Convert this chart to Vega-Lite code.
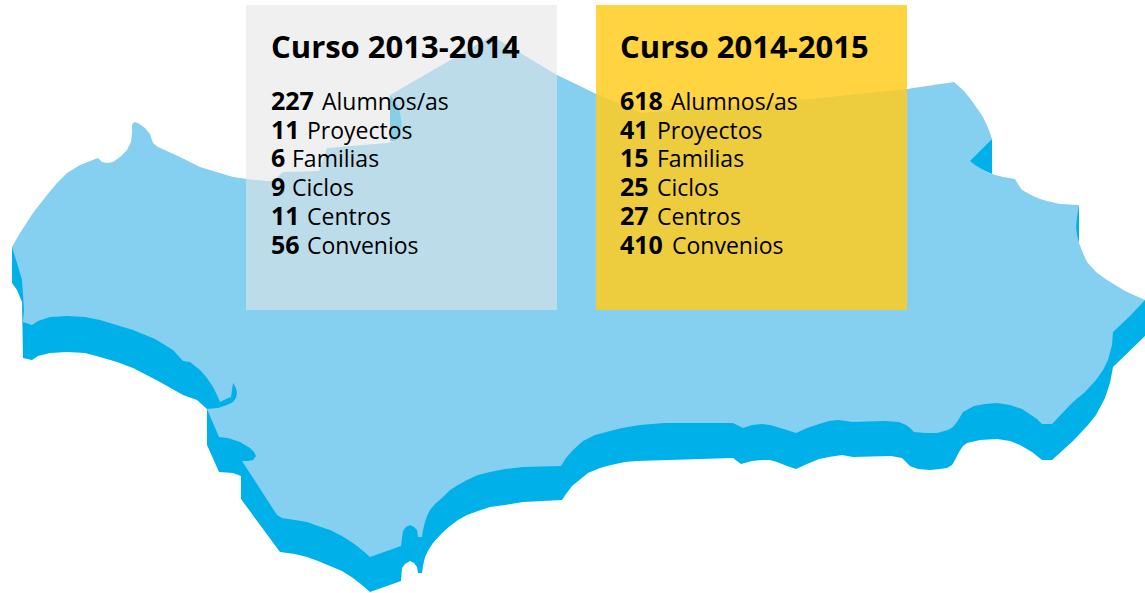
{"$schema":"https://vega.github.io/schema/vega-lite/v6.json","width":1145,"height":593,"padding":0,"autosize":"none","background":"white","view":{"stroke":null},
"datasets":{
"dark":[
{"s":"a","i":1,"x":12,"y":247},{"s":"a","i":2,"x":12,"y":283},{"s":"a","i":3,"x":17,"y":290},{"s":"a","i":4,"x":22,"y":302},{"s":"a","i":5,"x":23,"y":358},{"s":"a","i":6,"x":32,"y":360},{"s":"a","i":7,"x":38,"y":356},{"s":"a","i":8,"x":50,"y":353},{"s":"a","i":9,"x":67,"y":352},{"s":"a","i":10,"x":85,"y":353},{"s":"a","i":11,"x":100,"y":357},{"s":"a","i":12,"x":117,"y":362},{"s":"a","i":13,"x":133,"y":368},{"s":"a","i":14,"x":160,"y":382},{"s":"a","i":15,"x":183,"y":395},{"s":"a","i":16,"x":197,"y":400},{"s":"a","i":17,"x":207,"y":409},{"s":"a","i":18,"x":207,"y":445},{"s":"a","i":19,"x":219,"y":472},{"s":"a","i":20,"x":233,"y":473},{"s":"a","i":21,"x":241,"y":476},{"s":"a","i":22,"x":241,"y":499},{"s":"a","i":23,"x":280,"y":552},{"s":"a","i":24,"x":295,"y":554},{"s":"a","i":25,"x":307,"y":557},{"s":"a","i":26,"x":318,"y":561},{"s":"a","i":27,"x":330,"y":566},{"s":"a","i":28,"x":342,"y":571},{"s":"a","i":29,"x":353,"y":578},{"s":"a","i":30,"x":362,"y":585},{"s":"a","i":31,"x":370,"y":592},{"s":"a","i":32,"x":401,"y":581},{"s":"a","i":33,"x":402,"y":568},{"s":"a","i":34,"x":405,"y":564},{"s":"a","i":35,"x":410,"y":561},{"s":"a","i":36,"x":414,"y":563},{"s":"a","i":37,"x":417,"y":567},{"s":"a","i":38,"x":418,"y":573},{"s":"a","i":39,"x":422,"y":573},{"s":"a","i":40,"x":423,"y":566},{"s":"a","i":41,"x":425,"y":557},{"s":"a","i":42,"x":429,"y":549},{"s":"a","i":43,"x":433,"y":543},{"s":"a","i":44,"x":442,"y":533},{"s":"a","i":45,"x":450,"y":526},{"s":"a","i":46,"x":458,"y":520},{"s":"a","i":47,"x":467,"y":515},{"s":"a","i":48,"x":478,"y":511},{"s":"a","i":49,"x":490,"y":507},{"s":"a","i":50,"x":505,"y":505},{"s":"a","i":51,"x":523,"y":502},{"s":"a","i":52,"x":562,"y":500},{"s":"a","i":53,"x":566,"y":494},{"s":"a","i":54,"x":572,"y":486},{"s":"a","i":55,"x":588,"y":473},{"s":"a","i":56,"x":600,"y":468},{"s":"a","i":57,"x":611,"y":465},{"s":"a","i":58,"x":625,"y":462},{"s":"a","i":59,"x":637,"y":461},{"s":"a","i":60,"x":733,"y":458},{"s":"a","i":61,"x":741,"y":464},{"s":"a","i":62,"x":752,"y":461},{"s":"a","i":63,"x":762,"y":460},{"s":"a","i":64,"x":770,"y":460},{"s":"a","i":65,"x":777,"y":462},{"s":"a","i":66,"x":787,"y":466},{"s":"a","i":67,"x":796,"y":469},{"s":"a","i":68,"x":807,"y":464},{"s":"a","i":69,"x":819,"y":459},{"s":"a","i":70,"x":829,"y":457},{"s":"a","i":71,"x":842,"y":455},{"s":"a","i":72,"x":853,"y":457},{"s":"a","i":73,"x":891,"y":456},{"s":"a","i":74,"x":902,"y":458},{"s":"a","i":75,"x":906,"y":462},{"s":"a","i":76,"x":910,"y":466},{"s":"a","i":77,"x":918,"y":469},{"s":"a","i":78,"x":930,"y":470},{"s":"a","i":79,"x":940,"y":469},{"s":"a","i":80,"x":947,"y":468},{"s":"a","i":81,"x":952,"y":465},{"s":"a","i":82,"x":955,"y":460},{"s":"a","i":83,"x":959,"y":452},{"s":"a","i":84,"x":963,"y":446},{"s":"a","i":85,"x":967,"y":443},{"s":"a","i":86,"x":980,"y":440},{"s":"a","i":87,"x":997,"y":439},{"s":"a","i":88,"x":1010,"y":441},{"s":"a","i":89,"x":1020,"y":445},{"s":"a","i":90,"x":1032,"y":452},{"s":"a","i":91,"x":1042,"y":460},{"s":"a","i":92,"x":1052,"y":460},{"s":"a","i":93,"x":1073,"y":441},{"s":"a","i":94,"x":1088,"y":425},{"s":"a","i":95,"x":1096,"y":415},{"s":"a","i":96,"x":1105,"y":398},{"s":"a","i":97,"x":1110,"y":383},{"s":"a","i":98,"x":1113,"y":367},{"s":"a","i":99,"x":1145,"y":336},{"s":"a","i":100,"x":1145,"y":300},{"s":"a","i":101,"x":600,"y":300},
{"s":"b","i":1,"x":390,"y":95},{"s":"b","i":2,"x":390,"y":141},{"s":"b","i":3,"x":410,"y":141},{"s":"b","i":4,"x":410,"y":95},
{"s":"c","i":1,"x":992,"y":139},{"s":"c","i":2,"x":960,"y":160},{"s":"c","i":3,"x":992,"y":174},
{"s":"d","i":1,"x":1079,"y":205},{"s":"d","i":2,"x":1070,"y":220},{"s":"d","i":3,"x":1079,"y":243}
],
"light":[
{"i":1,"x":12,"y":247},{"i":2,"x":20,"y":233},{"i":3,"x":33,"y":213},{"i":4,"x":47,"y":195},{"i":5,"x":57,"y":183},{"i":6,"x":67,"y":173},{"i":7,"x":80,"y":165},{"i":8,"x":98,"y":158},{"i":9,"x":102,"y":162},{"i":10,"x":107,"y":163},{"i":11,"x":113,"y":162},{"i":12,"x":120,"y":157},{"i":13,"x":127,"y":150},{"i":14,"x":131,"y":142},{"i":15,"x":132,"y":133},{"i":16,"x":132,"y":125},{"i":17,"x":134,"y":122},{"i":18,"x":138,"y":123},{"i":19,"x":145,"y":128},{"i":20,"x":150,"y":134},{"i":21,"x":153,"y":143},{"i":22,"x":158,"y":147},{"i":23,"x":180,"y":157},{"i":24,"x":200,"y":167},{"i":25,"x":233,"y":177},{"i":26,"x":247,"y":179},{"i":27,"x":267,"y":181},{"i":28,"x":273,"y":181},{"i":29,"x":283,"y":172},{"i":30,"x":319,"y":171},{"i":31,"x":327,"y":148},{"i":32,"x":387,"y":143},{"i":33,"x":397,"y":140},{"i":34,"x":402,"y":125},{"i":35,"x":399,"y":108},{"i":36,"x":390,"y":95},{"i":37,"x":492,"y":36},{"i":38,"x":557,"y":75},{"i":39,"x":580,"y":86},{"i":40,"x":596,"y":94},{"i":41,"x":620,"y":104},{"i":42,"x":642,"y":113},{"i":43,"x":670,"y":110},{"i":44,"x":740,"y":105},{"i":45,"x":810,"y":99},{"i":46,"x":907,"y":89},{"i":47,"x":954,"y":82},{"i":48,"x":964,"y":91},{"i":49,"x":972,"y":101},{"i":50,"x":983,"y":117},{"i":51,"x":989,"y":130},{"i":52,"x":992,"y":139},{"i":53,"x":970,"y":161},{"i":54,"x":975,"y":165},{"i":55,"x":980,"y":168},{"i":56,"x":985,"y":171},{"i":57,"x":992,"y":174},{"i":58,"x":1003,"y":177},{"i":59,"x":1015,"y":179},{"i":60,"x":1018,"y":184},{"i":61,"x":1022,"y":190},{"i":62,"x":1033,"y":196},{"i":63,"x":1040,"y":199},{"i":64,"x":1047,"y":201},{"i":65,"x":1060,"y":204},{"i":66,"x":1079,"y":205},{"i":67,"x":1077,"y":217},{"i":68,"x":1076,"y":227},{"i":69,"x":1077,"y":235},{"i":70,"x":1079,"y":243},{"i":71,"x":1083,"y":253},{"i":72,"x":1087,"y":262},{"i":73,"x":1096,"y":272},{"i":74,"x":1107,"y":280},{"i":75,"x":1125,"y":291},{"i":76,"x":1145,"y":300},{"i":77,"x":1130,"y":316},{"i":78,"x":1113,"y":332},{"i":79,"x":1112,"y":345},{"i":80,"x":1108,"y":360},{"i":81,"x":1103,"y":370},{"i":82,"x":1096,"y":380},{"i":83,"x":1085,"y":392},{"i":84,"x":1073,"y":402},{"i":85,"x":1052,"y":424},{"i":86,"x":1042,"y":424},{"i":87,"x":1037,"y":419},{"i":88,"x":1031,"y":415},{"i":89,"x":1022,"y":409},{"i":90,"x":1010,"y":405},{"i":91,"x":997,"y":403},{"i":92,"x":985,"y":404},{"i":93,"x":974,"y":406},{"i":94,"x":963,"y":412},{"i":95,"x":960,"y":417},{"i":96,"x":957,"y":422},{"i":97,"x":953,"y":427},{"i":98,"x":948,"y":430},{"i":99,"x":937,"y":433},{"i":100,"x":925,"y":433},{"i":101,"x":914,"y":432},{"i":102,"x":910,"y":428},{"i":103,"x":906,"y":425},{"i":104,"x":899,"y":422},{"i":105,"x":884,"y":421},{"i":106,"x":853,"y":422},{"i":107,"x":838,"y":420},{"i":108,"x":829,"y":421},{"i":109,"x":819,"y":424},{"i":110,"x":807,"y":428},{"i":111,"x":796,"y":433},{"i":112,"x":787,"y":430},{"i":113,"x":777,"y":427},{"i":114,"x":770,"y":425},{"i":115,"x":762,"y":424},{"i":116,"x":752,"y":425},{"i":117,"x":743,"y":428},{"i":118,"x":733,"y":423},{"i":119,"x":664,"y":423},{"i":120,"x":640,"y":425},{"i":121,"x":622,"y":428},{"i":122,"x":610,"y":431},{"i":123,"x":595,"y":435},{"i":124,"x":583,"y":441},{"i":125,"x":573,"y":450},{"i":126,"x":566,"y":458},{"i":127,"x":561,"y":466},{"i":128,"x":523,"y":467},{"i":129,"x":505,"y":469},{"i":130,"x":490,"y":472},{"i":131,"x":478,"y":475},{"i":132,"x":467,"y":480},{"i":133,"x":458,"y":485},{"i":134,"x":450,"y":490},{"i":135,"x":442,"y":498},{"i":136,"x":435,"y":504},{"i":137,"x":430,"y":510},{"i":138,"x":427,"y":516},{"i":139,"x":425,"y":522},{"i":140,"x":423,"y":530},{"i":141,"x":422,"y":537},{"i":142,"x":418,"y":537},{"i":143,"x":417,"y":530},{"i":144,"x":414,"y":527},{"i":145,"x":410,"y":525},{"i":146,"x":406,"y":527},{"i":147,"x":403,"y":531},{"i":148,"x":402,"y":538},{"i":149,"x":401,"y":546},{"i":150,"x":370,"y":557},{"i":151,"x":362,"y":550},{"i":152,"x":353,"y":543},{"i":153,"x":342,"y":536},{"i":154,"x":330,"y":530},{"i":155,"x":318,"y":526},{"i":156,"x":307,"y":522},{"i":157,"x":295,"y":520},{"i":158,"x":282,"y":518},{"i":159,"x":277,"y":515},{"i":160,"x":242,"y":461},{"i":161,"x":248,"y":461},{"i":162,"x":253,"y":460},{"i":163,"x":256,"y":456},{"i":164,"x":254,"y":452},{"i":165,"x":250,"y":448},{"i":166,"x":245,"y":445},{"i":167,"x":240,"y":442},{"i":168,"x":228,"y":438},{"i":169,"x":219,"y":437},{"i":170,"x":207,"y":409},{"i":171,"x":218,"y":408},{"i":172,"x":227,"y":405},{"i":173,"x":233,"y":402},{"i":174,"x":236,"y":398},{"i":175,"x":237,"y":393},{"i":176,"x":236,"y":388},{"i":177,"x":233,"y":383},{"i":178,"x":232,"y":390},{"i":179,"x":231,"y":397},{"i":180,"x":226,"y":399},{"i":181,"x":220,"y":402},{"i":182,"x":217,"y":395},{"i":183,"x":213,"y":387},{"i":184,"x":207,"y":378},{"i":185,"x":200,"y":370},{"i":186,"x":190,"y":362},{"i":187,"x":183,"y":361},{"i":188,"x":173,"y":350},{"i":189,"x":155,"y":339},{"i":190,"x":133,"y":330},{"i":191,"x":100,"y":320},{"i":192,"x":85,"y":317},{"i":193,"x":67,"y":316},{"i":194,"x":50,"y":317},{"i":195,"x":38,"y":321},{"i":196,"x":32,"y":325},{"i":197,"x":23,"y":322},{"i":198,"x":24,"y":310},{"i":199,"x":23,"y":295},{"i":200,"x":22,"y":280},{"i":201,"x":17,"y":263}
],
"panels":[{"curso":"2013-2014","x":246,"x2":557,"y":5,"y2":310},{"curso":"2014-2015","x":596,"x2":907,"y":5,"y2":310}],
"bold":[
{"t":"Curso 2013-2014","x":271,"y":58,"k":"title"},{"t":"Curso 2014-2015","x":620,"y":58,"k":"title"},
{"t":"227","x":271,"y":110,"k":"n"},{"t":"11","x":271,"y":139,"k":"n"},{"t":"6","x":271,"y":167,"k":"n"},{"t":"9","x":271,"y":196,"k":"n"},{"t":"11","x":271,"y":225,"k":"n"},{"t":"56","x":271,"y":254,"k":"n"},
{"t":"618","x":620,"y":110,"k":"n"},{"t":"41","x":620,"y":139,"k":"n"},{"t":"15","x":620,"y":167,"k":"n"},{"t":"25","x":620,"y":196,"k":"n"},{"t":"27","x":620,"y":225,"k":"n"},{"t":"410","x":620,"y":254,"k":"n"}
],
"regular":[
{"t":"Alumnos/as","x":322,"y":110},{"t":"Proyectos","x":307,"y":139},{"t":"Familias","x":292,"y":167},{"t":"Ciclos","x":292,"y":196},{"t":"Centros","x":307,"y":225},{"t":"Convenios","x":307,"y":254},
{"t":"Alumnos/as","x":671,"y":110},{"t":"Proyectos","x":657,"y":139},{"t":"Familias","x":657,"y":167},{"t":"Ciclos","x":657,"y":196},{"t":"Centros","x":657,"y":225},{"t":"Convenios","x":672,"y":254}
]},
"encoding":{
"x":{"field":"x","type":"quantitative","axis":null,"scale":{"domain":[0,1145],"nice":false,"zero":false}},
"y":{"field":"y","type":"quantitative","axis":null,"scale":{"domain":[593,0],"nice":false,"zero":false}}},
"layer":[
{"data":{"name":"dark"},"mark":{"type":"line","fill":"#00b1e9","stroke":null,"strokeWidth":0,"clip":true},"encoding":{"detail":{"field":"s"},"order":{"field":"i","type":"quantitative"}}},
{"data":{"name":"light"},"mark":{"type":"line","fill":"#85cff0","stroke":null,"strokeWidth":0,"clip":true},"encoding":{"order":{"field":"i","type":"quantitative"}}},
{"data":{"name":"panels"},"transform":[{"filter":"datum.curso=='2013-2014'"}],"mark":{"type":"rect","fill":"#e5e5e5","opacity":0.58},"encoding":{"x2":{"field":"x2"},"y2":{"field":"y2"}}},
{"data":{"name":"panels"},"transform":[{"filter":"datum.curso=='2014-2015'"}],"mark":{"type":"rect","fill":"#ffcc1e","opacity":0.85},"encoding":{"x2":{"field":"x2"},"y2":{"field":"y2"}}},
{"data":{"name":"bold"},"transform":[{"filter":"datum.k=='title'"}],"mark":{"type":"text","align":"left","baseline":"alphabetic","font":"Open Sans","fontWeight":"bold","fontSize":31,"fill":"#000"},"encoding":{"text":{"field":"t"}}},
{"data":{"name":"bold"},"transform":[{"filter":"datum.k=='n'"}],"mark":{"type":"text","align":"left","baseline":"alphabetic","font":"Open Sans","fontWeight":"bold","fontSize":25,"fill":"#000"},"encoding":{"text":{"field":"t"}}},
{"data":{"name":"regular"},"mark":{"type":"text","align":"left","baseline":"alphabetic","font":"Open Sans","fontSize":23,"fill":"#000"},"encoding":{"text":{"field":"t"}}}
]}
